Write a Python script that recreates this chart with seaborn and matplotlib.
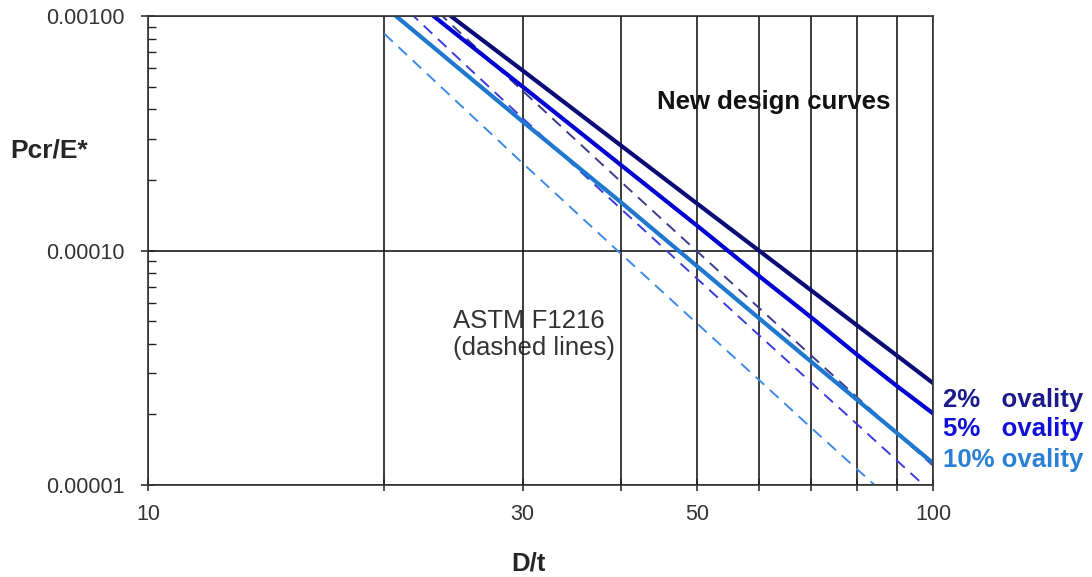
import matplotlib
matplotlib.use("Agg")
import matplotlib.pyplot as plt
import matplotlib.ticker as mticker
import seaborn as sns
import pandas as pd

dt = [20, 25, 30, 40, 50, 60, 70, 80, 90, 100]

# new design curves (solid)
new_2 = [1.65e-3, 9.3e-4, 5.86e-4, 2.81e-4, 1.59e-4, 1.0e-4, 6.75e-5, 4.8e-5, 3.56e-5, 2.72e-5]
new_5 = [1.47e-3, 8.1e-4, 5.0e-4, 2.32e-4, 1.28e-4, 7.8e-5, 5.18e-5, 3.6e-5, 2.64e-5, 2.02e-5]
new_10 = [1.10e-3, 5.9e-4, 3.55e-4, 1.61e-4, 8.6e-5, 5.15e-5, 3.35e-5, 2.31e-5, 1.665e-5, 1.24e-5]

# ASTM F1216 curves (dashed)
astm_2 = [1.71e-3, 8.46e-4, 4.8e-4, 1.97e-4, 9.95e-5, 5.7e-5, 3.56e-5, 2.37e-5, 1.66e-5, 1.21e-5]
astm_5 = [1.31e-3, 6.48e-4, 3.67e-4, 1.51e-4, 7.61e-5, 4.36e-5, 2.73e-5, 1.82e-5, 1.27e-5, 9.2e-6]
astm_10 = [8.4e-4, 4.17e-4, 2.36e-4, 9.71e-5, 4.9e-5, 2.81e-5, 1.75e-5, 1.17e-5, 8.2e-6, 6.0e-6]

ovality = ["2%", "5%", "10%"]
ovality_labels = ["2%   ovality", "5%   ovality", "10% ovality"]

x_major = [10, 30, 50, 100]
x_minor = [20, 40, 60, 70, 80, 90]
y_major = [1e-5, 1e-4, 1e-3]


def to_long(series):
    df = pd.DataFrame(dict(zip(ovality, series)), index=dt)
    df.index.name = "D/t"
    return df.reset_index().melt(id_vars="D/t", var_name="ovality", value_name="Pcr/E*")


new_df = to_long([new_2, new_5, new_10])
astm_df = to_long([astm_2, astm_5, astm_10])

new_colors = {"2%": "#0b0b78", "5%": "#0000d2", "10%": "#1f78d0"}
astm_colors = {"2%": "#3c3c8e", "5%": "#3b3be0", "10%": "#3d8be6"}
label_colors = ["#1a1a8a", "#1010d8", "#2a80d4"]

sns.set_style("white")
plt.rcParams["font.family"] = ["Liberation Sans", "DejaVu Sans"]

fig = plt.figure(figsize=(10.92, 5.77), dpi=100)
ax = fig.add_axes([0.1355, 0.1594, 0.7189, 0.8129])
ax.set_xscale("log")
ax.set_yscale("log")

sns.lineplot(data=astm_df, x="D/t", y="Pcr/E*", hue="ovality", palette=astm_colors,
             linewidth=1.4, linestyle=(0, (6, 4)), legend=False, errorbar=None, ax=ax)
sns.lineplot(data=new_df, x="D/t", y="Pcr/E*", hue="ovality", palette=new_colors,
             linewidth=3.0, solid_capstyle="round", legend=False, errorbar=None, ax=ax)

ax.set_xlim(10, 100)
ax.set_ylim(1e-5, 1e-3)

ax.xaxis.set_major_locator(mticker.FixedLocator(x_major))
ax.xaxis.set_minor_locator(mticker.FixedLocator(x_minor))
ax.xaxis.set_major_formatter(mticker.FixedFormatter([str(v) for v in x_major]))
ax.xaxis.set_minor_formatter(mticker.NullFormatter())
ax.yaxis.set_major_locator(mticker.FixedLocator(y_major))
ax.yaxis.set_minor_locator(mticker.LogLocator(base=10, subs=range(2, 10)))
ax.yaxis.set_major_formatter(mticker.FormatStrFormatter("%.5f"))
ax.yaxis.set_minor_formatter(mticker.NullFormatter())

ax.tick_params(axis="x", which="both", direction="inout", length=9, width=1.1,
               color="#222222", labelsize=15.5, labelcolor="#333333", pad=9,
               bottom=True, top=False)
ax.tick_params(axis="y", which="major", direction="inout", length=10, width=1.1,
               color="#222222", labelsize=15.5, labelcolor="#333333", pad=11.5,
               left=True, right=False)
ax.tick_params(axis="y", which="minor", direction="in", length=6, width=1.0,
               color="#222222", left=True, right=False)

ax.set_axisbelow("line")
ax.grid(axis="x", which="both", color="#1a1a1a", linewidth=1.2)
ax.grid(axis="y", which="major", color="#1a1a1a", linewidth=1.2)
for sp in ax.spines.values():
    sp.set_color("#333333")
    sp.set_linewidth(1.2)

ax.set_ylabel("Pcr/E*", rotation=0, fontsize=19, fontweight="bold", ha="center", va="center")
ax.yaxis.set_label_coords(-0.126, 0.714)
ax.set_xlabel("D/t", fontsize=18.5, fontweight="bold", va="center")
ax.xaxis.set_label_coords(0.485, -0.168)

ax.text(44.5, 4.3e-4, "New design curves", fontsize=18.5, fontweight="bold",
        color="#111111", ha="left", va="center", zorder=1)
ax.text(24.5, 4.4e-5, "ASTM F1216\n(dashed lines)", fontsize=18.5, color="#333333",
        ha="left", va="center", linespacing=1.15, zorder=1)

label_y = [2.3e-5, 1.73e-5, 1.28e-5]
for txt, yv, col in zip(ovality_labels, label_y, label_colors):
    ax.text(103, yv, txt, fontsize=18.5, fontweight="bold", color=col,
            ha="left", va="center", clip_on=False)

plt.savefig("out.png", dpi=100)
